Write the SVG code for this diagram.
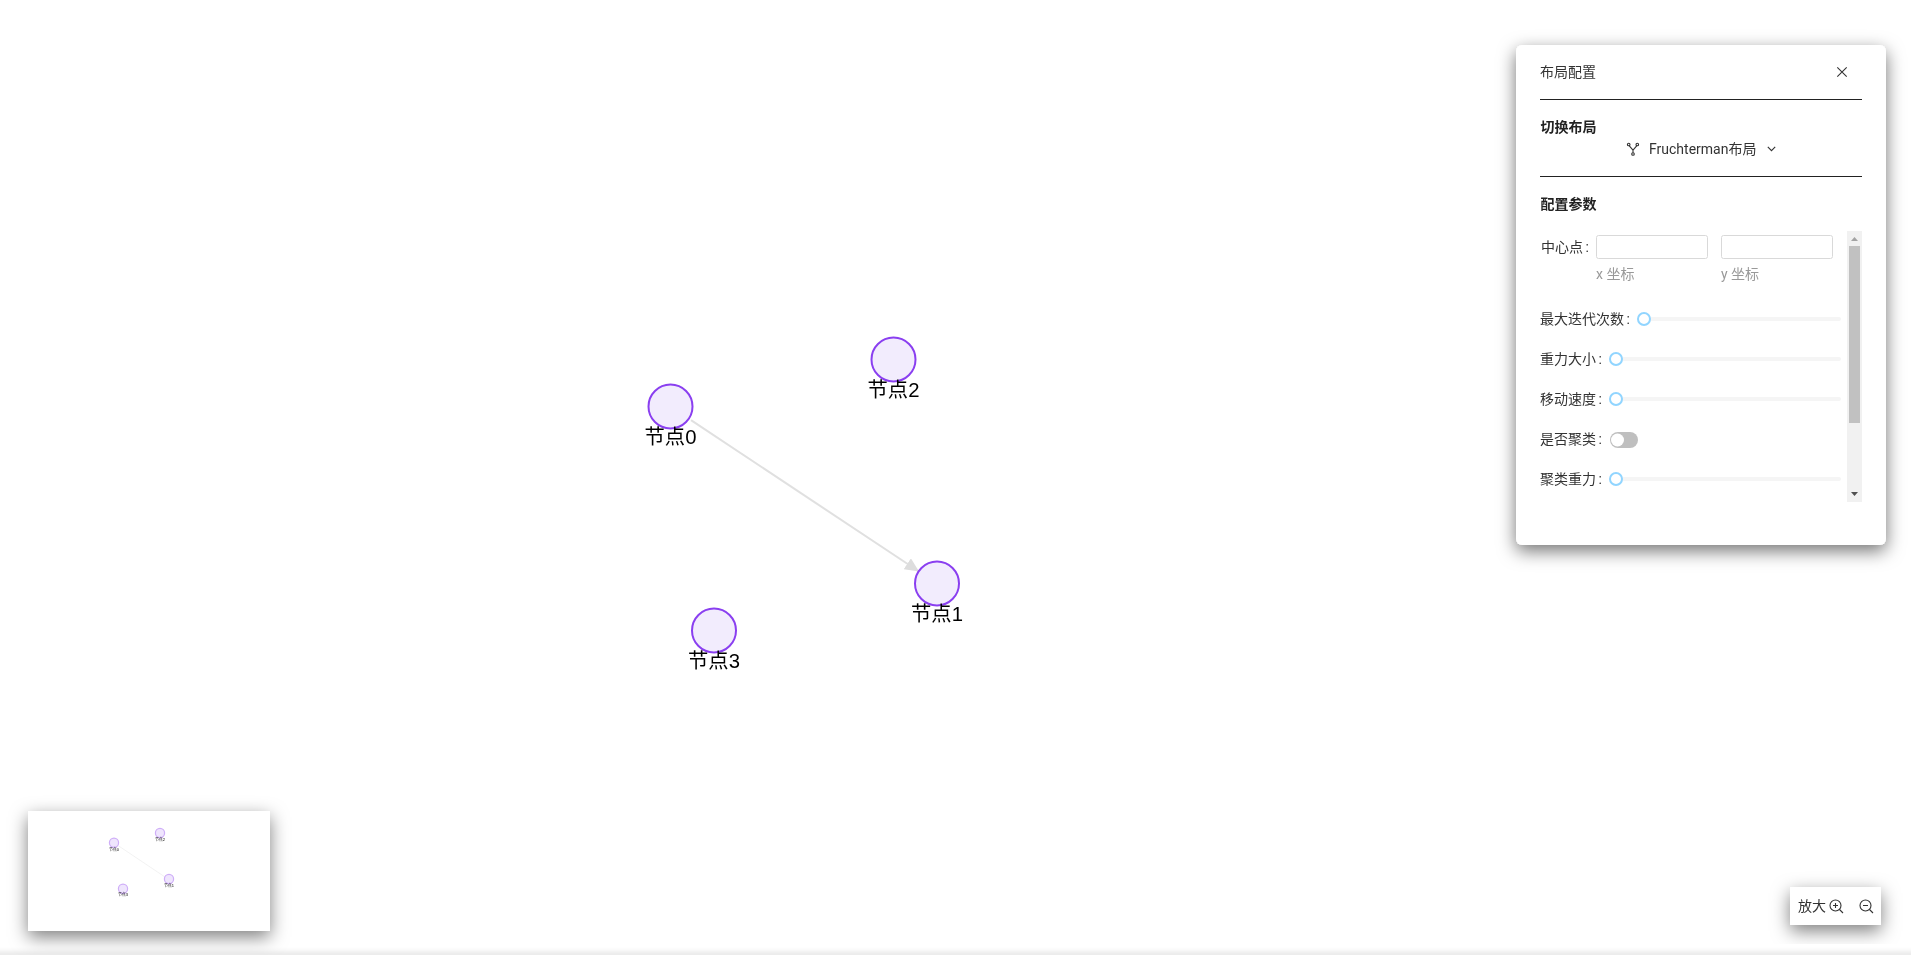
<svg xmlns="http://www.w3.org/2000/svg" width="1911" height="955" viewBox="0 0 1911 955">
<defs>
<filter id="sh" x="-30%" y="-30%" width="160%" height="160%"><feDropShadow dx="0" dy="6" stdDeviation="9" flood-color="#000" flood-opacity=".55"/></filter>
<filter id="sh2" x="-30%" y="-40%" width="160%" height="190%"><feDropShadow dx="0" dy="6" stdDeviation="9" flood-color="#000" flood-opacity=".5"/></filter>
<filter id="bl" x="-5%" y="-5%" width="110%" height="110%"><feGaussianBlur stdDeviation=".7"/></filter>
<filter id="bar" x="-5%" y="-500%" width="110%" height="1100%"><feGaussianBlur stdDeviation="2"/></filter>
<marker id="arr" markerUnits="userSpaceOnUse" markerWidth="16" markerHeight="14" refX="14" refY="6.500" orient="auto"><path d="M0 0L14 6.500L0 13Z" fill="#ddd"/></marker>
</defs>
<style>
text{font-family:Roboto,"Noto Sans CJK SC",sans-serif;font-size:14px;fill:#333;word-spacing:-1px}
.gray{opacity:.999}
.b{font-weight:700;fill:#222}
.lab{font-family:"Liberation Sans","Noto Sans CJK SC",sans-serif;font-size:20.300px;fill:#000;text-anchor:middle}
.edge{stroke:#e0e0e0;stroke-width:2;fill:none}
.node{fill:#f2ecfd;stroke:#8a3ff0;stroke-width:2}
.div{stroke:#222;stroke-width:1}
.input{fill:#fff;stroke:#d9d9d9;stroke-width:1}
.hint{fill:#999;word-spacing:0}
.rail{fill:#f5f5f5}
.thumb{fill:#fff;stroke:#91d5ff;stroke-width:2}
.ic{fill:none;stroke:#333;stroke-width:1.1}
.mlab{font-family:"Liberation Sans","Noto Sans CJK SC",sans-serif;font-size:4px;fill:#000;text-anchor:middle}
</style>
<rect width="1911" height="955" fill="#fff"/>
<rect id="page-scrollbar" x="-20" y="951" width="1951" height="24" fill="#ebebeb" filter="url(#bar)"/>
<g id="connectors"><line class="edge" x1="691" y1="420.200" x2="919" y2="571.500" marker-end="url(#arr)"/></g>
<g id="node0" class="gray"><circle class="node" cx="670.500" cy="406.500" r="22"/><text class="lab" x="670.500" y="444">节点0</text></g>
<g id="node1" class="gray"><circle class="node" cx="937" cy="583.500" r="22"/><text class="lab" x="937" y="621">节点1</text></g>
<g id="node2" class="gray"><circle class="node" cx="893.500" cy="359.500" r="22"/><text class="lab" x="893.500" y="397">节点2</text></g>
<g id="node3" class="gray"><circle class="node" cx="714" cy="630.500" r="22"/><text class="lab" x="714" y="668">节点3</text></g>
<g id="minimap">
<rect x="28" y="811" width="242" height="120" fill="#fff" filter="url(#sh2)"/>
<g filter="url(#bl)">
<line x1="118" y1="845.500" x2="165" y2="877" stroke="#ececec" stroke-width=".7"/>
<circle cx="114" cy="842.700" r="4.600" fill="#efe5fd" stroke="#cfaef8" stroke-width="1.200"/>
<circle cx="169" cy="879" r="4.600" fill="#efe5fd" stroke="#cfaef8" stroke-width="1.200"/>
<circle cx="160" cy="833" r="4.600" fill="#efe5fd" stroke="#cfaef8" stroke-width="1.200"/>
<circle cx="123" cy="888.700" r="4.600" fill="#efe5fd" stroke="#cfaef8" stroke-width="1.200"/>
<text class="mlab" x="114" y="851">节点0</text><text class="mlab" x="169" y="887">节点1</text><text class="mlab" x="160" y="841">节点2</text><text class="mlab" x="123" y="896">节点3</text>
</g>
</g>
<g id="zoom-controls">
<rect x="1790" y="887" width="91" height="38" fill="#fff" filter="url(#sh2)"/>
<g class="gray"><text x="1798" y="911">放大</text>
<circle class="ic" cx="1835.500" cy="905.500" r="5.500"/><path class="ic" d="M1839.500 909.500l3.500 3.500M1833 905.500h5M1835.500 903v5"/>
<circle class="ic" cx="1865.500" cy="905.500" r="5.500"/><path class="ic" d="M1869.500 909.500l3.500 3.500M1863 905.500h5"/></g>
</g>
<g id="panel">
<rect x="1516" y="45" width="370" height="500" rx="6" fill="#fff" filter="url(#sh)"/>
<g class="gray">
<text x="1540" y="77">布局配置</text>
<path d="M1837.300 67.300l9.400 9.400M1846.700 67.300l-9.400 9.400" stroke="#333" stroke-width="1.100" fill="none"/>
<line class="div" x1="1540" y1="99.500" x2="1862" y2="99.500"/>
<text class="b" x="1540.500" y="132">切换布局</text>
<g class="ic" stroke-width=".9"><circle cx="1628.700" cy="144.500" r="1.300"/><circle cx="1637.300" cy="144.500" r="1.300"/><circle cx="1633" cy="154" r="1.300"/><path d="M1629.300 145.800l3.700 4.400 3.700-4.400M1633 150.200v2.500"/></g>
<text x="1649" y="154">Fruchterman布局</text>
<path class="ic" d="M1767.800 146.800l3.700 3.900 3.700-3.900" stroke-width=".8"/>
<line class="div" x1="1540" y1="176.500" x2="1862" y2="176.500"/>
<text class="b" x="1540.500" y="209">配置参数</text>
<text x="1541" y="252">中心点 :</text>
<rect class="input" x="1596.500" y="235.500" width="111" height="23" rx="2"/>
<rect class="input" x="1721.500" y="235.500" width="111" height="23" rx="2"/>
<text class="hint" x="1596" y="279">x 坐标</text>
<text class="hint" x="1721" y="279">y 坐标</text>
<text x="1540" y="324">最大迭代次数 :</text>
<rect class="rail" x="1644" y="317" width="197" height="4" rx="2"/><circle class="thumb" cx="1644" cy="319" r="6"/>
<text x="1540" y="364">重力大小 :</text>
<rect class="rail" x="1616" y="357" width="225" height="4" rx="2"/><circle class="thumb" cx="1616" cy="359" r="6"/>
<text x="1540" y="404">移动速度 :</text>
<rect class="rail" x="1616" y="397" width="225" height="4" rx="2"/><circle class="thumb" cx="1616" cy="399" r="6"/>
<text x="1540" y="444">是否聚类 :</text>
<rect x="1610" y="432" width="28" height="16" rx="8" fill="#bfbfbf"/><circle cx="1617.500" cy="440" r="6.500" fill="#fff"/>
<text x="1540" y="484">聚类重力 :</text>
<rect class="rail" x="1616" y="477" width="225" height="4" rx="2"/><circle class="thumb" cx="1616" cy="479" r="6"/>
<rect x="1847" y="231" width="15" height="271" fill="#f1f1f1"/>
<rect x="1849" y="246" width="11" height="177" fill="#c1c1c1"/>
<path d="M1851 241l3.500-4 3.500 4z" fill="#a3a3a3"/>
<path d="M1851 492l3.500 4 3.500-4z" fill="#505050"/>
</g>
</g>
</svg>
